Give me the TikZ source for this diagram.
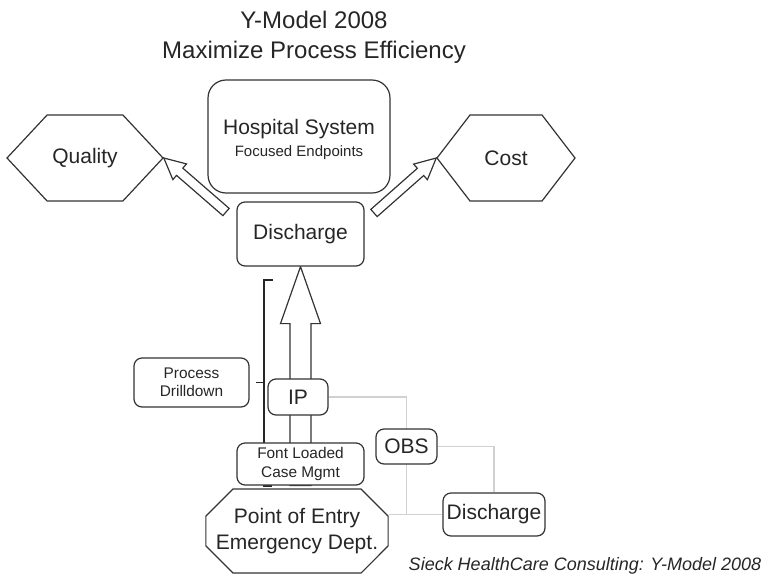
\documentclass[tikz,border=0pt]{standalone}
\usepackage{fontspec}
\setmainfont{Liberation Sans}
\usetikzlibrary{calc,shapes.misc,shapes.symbols,backgrounds}

% полая стрелка: хвост, острие, длина головки, полуширина головки, полуширина стержня
\newcommand{\hollowarrow}[5]{%
  \coordinate (hb) at ($(#2)!#3!(#1)$);
  \draw[fat] (#2) -- ($(hb)!#4!90:(#1)$) -- ($(hb)!#5!90:(#1)$) -- ($(#1)!#5!-90:(hb)$)
    -- ($(#1)!#5!90:(hb)$) -- ($(hb)!#5!-90:(#1)$) -- ($(hb)!#4!-90:(#1)$) -- cycle;}

\begin{document}
\begin{tikzpicture}[
        x=0.5pt, y=-0.5pt, % координаты в пикселях, ось y вниз
        every node/.style = {font=\fontsize{10.5}{12.6}\selectfont, text=black!85},
        box/.style = {draw=black!80, line width=0.6pt, rounded corners=4pt, fill=white, align=center, inner sep=0pt},
        small/.style = {font=\fontsize{7.7}{9.2}\selectfont},
        hexa/.style = {draw=black!80, line width=0.6pt, signal, signal to=east and west, fill=white, inner sep=0pt, minimum height=43pt},
        octa/.style = {draw=black!80, line width=0.6pt, chamfered rectangle, chamfered rectangle xsep=10pt, fill=white, align=center, inner xsep=-5pt, inner ysep=0pt},
        fat/.style = {draw=black!80, line width=0.6pt, fill=white},
        brace/.style = {draw=black!85, line width=0.7pt},
        conn/.style = {draw=black!18, line width=0.6pt}, % светлые соединители
    ]
    \useasboundingbox (0,0) rectangle (775,578);

    \node[align=center, font=\fontsize{12}{15}\selectfont] (title) at (314,37) {Y-Model 2008\\Maximize Process Efficiency};

    \node[box, rounded corners=9pt, minimum width=91pt, minimum height=56.5pt] (hosp) at (299,136.5)
        {\rule{0pt}{10.5pt}Hospital System\\[-1.5pt]{\fontsize{7.5}{9}\selectfont Focused Endpoints}};
    \node[hexa, minimum width=78pt, signal pointer angle=94] (qual) at (85,158) {Quality};
    \node[hexa, minimum width=69pt, signal pointer angle=105] (cost) at (506,158) {Cost};
    \node[box, minimum width=63.5pt, minimum height=32pt] (dis1) at (300.5,234) {Discharge};

    \node[box, small, minimum width=57.5pt, minimum height=24.5pt] (pd) at (191.5,382.5) {Process\\Drilldown};
    \node[box, minimum width=30pt, minimum height=18pt] (ip) at (298,397) {IP};
    \node[box, small, minimum width=63.5pt, minimum height=21pt] (fcm) at (300.5,464) {Font Loaded\\Case Mgmt};
    \node[octa, minimum height=42pt] (entry) at (297,531) {Point of Entry\\Emergency Dept.};
    \node[box, minimum width=30.5pt, minimum height=17.5pt] (obs) at (406.5,446.5) {OBS};
    \node[box, minimum width=51pt, minimum height=21.5pt] (dis2) at (494,514.5) {Discharge};

    \node[font=\fontsize{9}{11}\selectfont\itshape] (cap) at (585,566) {Sieck HealthCare Consulting: Y-Model 2008};

    \coordinate (tq) at (226,212);
    \coordinate (tc) at (374,213);
    \hollowarrow{tq}{qual.east}{10.5pt}{5.2pt}{2.4pt}
    \hollowarrow{tc}{cost.west}{10.5pt}{5.2pt}{2.4pt}

    \begin{scope}[on background layer]
        \hollowarrow{fcm.south}{dis1.south}{28.5pt}{10pt}{5.25pt}
        \draw[brace] (273,280) -| (264,486) -- (272,486);
        \draw[brace] ($(pd.east)+(6,0)$) -- ++(9,0);
        \draw[conn] (ip.east) -| (obs.center |- dis2.west);
        \draw[conn] (entry.east |- dis2.west) -- (dis2.west);
        \draw[conn] (obs.east) -| (dis2.north);
    \end{scope}
\end{tikzpicture}
\end{document}
